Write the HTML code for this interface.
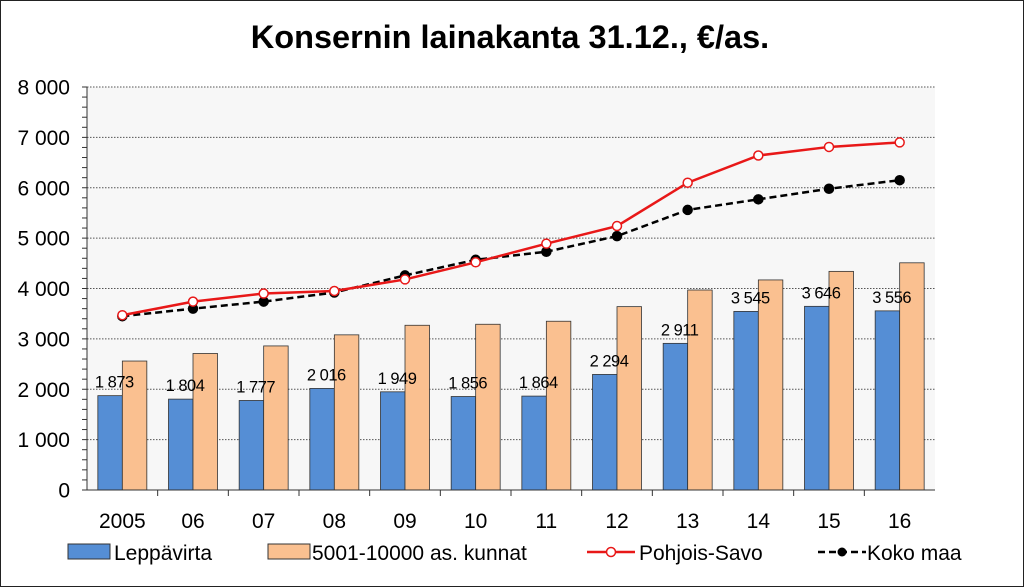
<!DOCTYPE html>
<html><head><meta charset="utf-8"><style>
body{margin:0;background:#fff}
svg{display:block;font-family:"Liberation Sans",Arial,sans-serif}
</style></head><body>
<svg id="c" width="1024" height="587" viewBox="0 0 1024 587">
<rect x="0.5" y="0.5" width="1023" height="586" fill="#fff" stroke="#222"/>
<text x="510" y="48" text-anchor="middle" font-size="32.5" font-weight="bold">Konsernin lainakanta 31.12., €/as.</text>
<rect x="87" y="87" width="848" height="403" fill="#f7f7f7"/>
<g id="grid"></g><g id="bars"></g><g id="lines"></g><g id="axes"></g>
<g font-size="21">
<rect x="68" y="544" width="42" height="15" fill="#558ed5" stroke="#333"/>
<text x="114" y="560">Leppävirta</text>
<rect x="268" y="544" width="42" height="15" fill="#fac090" stroke="#333"/>
<text x="312" y="560">5001-10000 as. kunnat</text>
<line x1="587" y1="552" x2="635" y2="552" stroke="#e81818" stroke-width="2.5"/>
<circle cx="611" cy="552" r="4.5" fill="#fff" stroke="#e81818" stroke-width="1.5"/>
<text x="639" y="560">Pohjois-Savo</text>
<line x1="818" y1="552" x2="866" y2="552" stroke="#000" stroke-width="2.5" stroke-dasharray="7,4"/>
<circle cx="842" cy="552" r="4.5" fill="#000"/>
<text x="867" y="560">Koko maa</text>
</g>
</svg>
<script>
const categories=["2005","06","07","08","09","10","11","12","13","14","15","16"];
const leppavirta=[1873,1804,1777,2016,1949,1856,1864,2294,2911,3545,3646,3556];
const kunnat=[2560,2710,2860,3080,3270,3290,3350,3640,3970,4170,4340,4510];
const pohjoisSavo=[3470,3740,3900,3950,4180,4520,4890,5240,6100,6640,6810,6900];
const kokoMaa=[3450,3600,3740,3920,4260,4570,4730,5040,5560,5770,5980,6150];
const yTicks=[0,1000,2000,3000,4000,5000,6000,7000,8000];
const yTickLabels=["0","1 000","2 000","3 000","4 000","5 000","6 000","7 000","8 000"];
const NS="http://www.w3.org/2000/svg";
const X0=87,X1=935,Y0=490,Y1=87,YMAX=8000;
const cw=(X1-X0)/categories.length;
const y=v=>Y0-(v/YMAX)*(Y0-Y1);
const xc=i=>X0+cw*(i+0.5);
function mk(tag,attrs,parent){const e=document.createElementNS(NS,tag);for(const k in attrs)e.setAttribute(k,attrs[k]);parent.appendChild(e);return e;}
const grid=document.getElementById('grid'),bars=document.getElementById('bars'),lines=document.getElementById('lines'),axes=document.getElementById('axes');
yTicks.forEach((t,i)=>{
 if(t>0){const g=mk('line',{x1:X0,x2:X1,y1:y(t),y2:y(t),stroke:'#555','stroke-dasharray':'1.5,1.5'},grid);
 
 }
 const l=mk('text',{x:70,y:y(t)+7.5,'text-anchor':'end','font-size':21},axes);l.textContent=yTickLabels[i];
 
 
});
for(let v=0;v<=YMAX;v+=200){const t=mk('line',{x1:X0-5,x2:X0,y1:y(v),y2:y(v),stroke:'#333'},axes);
 
 }
const ya=mk('line',{x1:X0,x2:X0,y1:Y1,y2:Y0,stroke:'#333'},axes);


const xa=mk('line',{x1:X0,x2:X1,y1:Y0,y2:Y0,stroke:'#333'},axes);


const bw=24.5;
categories.forEach((c,i)=>{
 const cx=xc(i);
 const b1=mk('rect',{x:cx-bw,y:y(leppavirta[i]),width:bw,height:Y0-y(leppavirta[i]),fill:'#558ed5',stroke:'#333','stroke-width':0.8},bars);
 
 
 const b2=mk('rect',{x:cx,y:y(kunnat[i]),width:bw,height:Y0-y(kunnat[i]),fill:'#fac090',stroke:'#333','stroke-width':0.8},bars);
 
 
 const lb=mk('text',{x:cx-8,y:y(leppavirta[i])-8,'text-anchor':'middle','font-size':16.5,'letter-spacing':'-0.5'},bars);
 lb.textContent=leppavirta[i].toLocaleString('fi-FI').replace(/\s|\u00a0|\u202f/g,' ');
 
 
 const xl=mk('text',{x:cx,y:528,'text-anchor':'middle','font-size':21},axes);xl.textContent=c;
 
 
 if(i>0){const tk=mk('line',{x1:X0+cw*i,x2:X0+cw*i,y1:Y0,y2:Y0+6,stroke:'#333'},axes);
 
 }
});
function series(vals,color,dash,fill,name){
 const p=mk('polyline',{points:vals.map((v,i)=>xc(i)+','+y(v)).join(' '),fill:'none',stroke:color,'stroke-width':2.5,'stroke-dasharray':dash},lines);
 
 
 vals.forEach((v,i)=>{const m=mk('circle',{cx:xc(i),cy:y(v),r:4.5,fill:fill,stroke:color,'stroke-width':1.5},lines);
 
 });
}
series(kokoMaa,'#000','7,4','#000','koko-maa');
series(pohjoisSavo,'#e81818','none','#fff','pohjois-savo');
</script>
</body></html>
